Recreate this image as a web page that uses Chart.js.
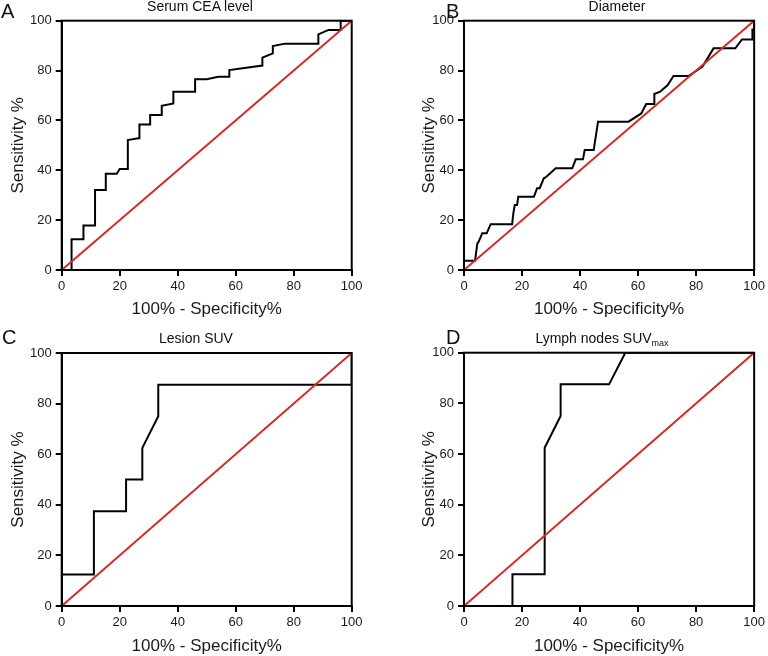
<!DOCTYPE html>
<html>
<head>
<meta charset="utf-8">
<script src="https://cdn.jsdelivr.net/npm/chart.js@4"></script>
<style>
  body { margin: 0; background: #fff; }
  #wrap { position: relative; width: 768px; height: 656px; overflow: hidden; font-family: 'Liberation Sans', Arial, Helvetica, sans-serif; color: #111; }
  canvas { position: absolute; left: 0; top: 0; }
  .letter { position: absolute; font-size: 20px; line-height: 20px; }
  .ttl { position: absolute; font-size: 14px; line-height: 14px; white-space: nowrap; transform: translateX(-50%); }
  .ttl sub { font-size: 9px; vertical-align: -3px; line-height: 0; }
</style>
</head>
<body>
<div id="wrap">
  <canvas id="cA" width="768" height="656"></canvas>
  <canvas id="cB" width="768" height="656"></canvas>
  <canvas id="cC" width="768" height="656"></canvas>
  <canvas id="cD" width="768" height="656"></canvas>
  <div class="letter" style="left:1px;top:1px">A</div>
  <div class="letter" style="left:446px;top:1px">B</div>
  <div class="letter" style="left:2px;top:327px">C</div>
  <div class="letter" style="left:446px;top:327px">D</div>
  <div class="ttl" style="left:200px;top:-1px">Serum CEA level</div>
  <div class="ttl" style="left:617px;top:-1px">Diameter</div>
  <div class="ttl" style="left:196px;top:331px">Lesion SUV</div>
  <div class="ttl" style="left:602px;top:331px">Lymph nodes SUV<sub>max</sub></div>
</div>
<script>
// ROC curves: x = 100% - specificity, y = sensitivity (both in %)
const axisTicks = [0, 20, 40, 60, 80, 100];
const refX = [0, 100];
const refY = [0, 100];

const ceaFpr = [0, 3.4, 3.4, 7.5, 7.5, 11.5, 11.5, 15.2, 15.2, 19, 20, 22.8, 22.8, 26.4, 26.8, 26.8, 30.5, 30.5, 34.5, 34.5, 38.5, 38.5, 46, 46, 50, 54, 57.8, 57.8, 69.2, 69.2, 72.8, 72.8, 77, 88.5, 88.5, 92, 96.2, 96.2, 100];
const ceaSens = [0, 0, 12.3, 12.3, 17.8, 17.8, 32.1, 32.1, 38.6, 38.6, 40.5, 40.5, 52.1, 52.8, 52.8, 58.4, 58.4, 62.2, 62.2, 65.9, 66.8, 71.5, 71.5, 76.5, 76.5, 77.5, 77.5, 80.2, 82, 85.2, 86.9, 89.8, 90.8, 90.8, 94.5, 96.3, 96.3, 100, 100];

const diamFpr = [0, 3.8, 4.6, 4.9, 6.3, 7.8, 9.2, 16.6, 17.0, 17.5, 18.3, 18.7, 24.1, 25.2, 26.1, 27.5, 28.4, 31.6, 37.3, 38.5, 41.0, 41.6, 44.7, 46.2, 56.7, 61.1, 62.8, 65.6, 65.6, 67.6, 70.2, 72.2, 77.4, 82.2, 86.0, 93.5, 95.8, 99.4, 99.4, 100, 100];
const diamSens = [3.7, 3.7, 10.7, 11.0, 14.7, 14.7, 18.4, 18.4, 22.7, 26.1, 26.1, 29.4, 29.4, 32.8, 32.8, 36.8, 37.4, 40.8, 40.8, 44.4, 44.4, 48.1, 48.1, 59.5, 59.5, 62.8, 66.6, 66.6, 70.6, 71.5, 74.2, 77.8, 77.8, 81.6, 88.9, 88.9, 92.5, 92.5, 96.5, 96.5, 100];

const suvFpr = [0, 11.1, 11.1, 22.2, 22.2, 27.8, 27.8, 33.3, 33.3, 100, 100];
const suvSens = [12.5, 12.5, 37.5, 37.5, 50, 50, 62.5, 75, 87.5, 87.5, 100];

const lymphFpr = [0, 16.7, 16.7, 27.8, 27.8, 33.3, 33.3, 50, 55.6, 100];
const lymphSens = [0, 0, 12.5, 12.5, 62.5, 75, 87.5, 87.5, 100, 100];

const FONT = "'Liberation Sans', Arial, Helvetica, sans-serif";
const TITLE_HALF = 17 * 1.2 / 2;

const panels = [
    { id: 'cA', xs: ceaFpr, ys: ceaSens, l: 61.7, t: 20.7, r: 351.7, b: 270, yt: 18, xt: 39.5 },
    { id: 'cB', xs: diamFpr, ys: diamSens, l: 464, t: 20.7, r: 755, b: 270, yt: 429, xt: 39.5 },
    { id: 'cC', xs: suvFpr, ys: suvSens, l: 61.7, t: 353, r: 351.7, b: 606, yt: 18, xt: 40 },
    { id: 'cD', xs: lymphFpr, ys: lymphSens, l: 464, t: 352.7, r: 754.5, b: 606, yt: 429, xt: 40 }
];

function toPoints(xs, ys) {
    return xs.map((v, i) => ({ x: v, y: ys[i] }));
}

const framePlugin = {
    id: 'frame',
    afterDatasetsDraw(chart) {
        const { ctx, chartArea: a } = chart;
        ctx.save();
        ctx.strokeStyle = '#000';
        ctx.lineWidth = 2;
        ctx.strokeRect(a.left, a.top, a.right - a.left, a.bottom - a.top);
        ctx.restore();
    }
};

function axisOpts(title, fitFn) {
    return {
        type: 'linear',
        min: 0,
        max: 100,
        afterBuildTicks: s => { s.ticks = axisTicks.map(v => ({ value: v })); },
        afterFit: fitFn,
        grid: { display: true, drawOnChartArea: false, drawTicks: true, tickLength: 6, color: '#000', lineWidth: 2 },
        border: { display: true, color: '#000', width: 2 },
        ticks: { color: '#1a1a1a', font: { family: FONT, size: 13 }, padding: 4 },
        title: { display: true, text: title, color: '#1a1a1a', padding: 0, font: { family: FONT, size: 17, lineHeight: 1.2 } }
    };
}

panels.forEach(p => {
    const padLeft = p.yt - TITLE_HALF;
    const yWidth = p.l - padLeft;
    const xHeight = p.xt + TITLE_HALF;
    const xAxis = axisOpts('100% - Specificity%', s => { s.height = xHeight; });
    xAxis.ticks.padding = 3;
    new Chart(document.getElementById(p.id), {
        type: 'scatter',
        data: {
            datasets: [{
                data: toPoints(refX, refY),
                showLine: true,
                borderColor: '#d42b27',
                borderWidth: 2,
                pointRadius: 0
            }, {
                data: toPoints(p.xs, p.ys),
                showLine: true,
                borderColor: '#000',
                borderWidth: 2,
                pointRadius: 0
            }]
        },
        options: {
            responsive: false,
            animation: false,
            events: [],
            layout: { padding: { left: padLeft, top: p.t, right: 768 - p.r, bottom: 656 - p.b - xHeight } },
            plugins: { legend: { display: false }, tooltip: { enabled: false } },
            scales: {
                x: xAxis,
                y: axisOpts('Sensitivity %', s => { s.width = yWidth; })
            }
        },
        plugins: [framePlugin]
    });
});
</script>
</body>
</html>
